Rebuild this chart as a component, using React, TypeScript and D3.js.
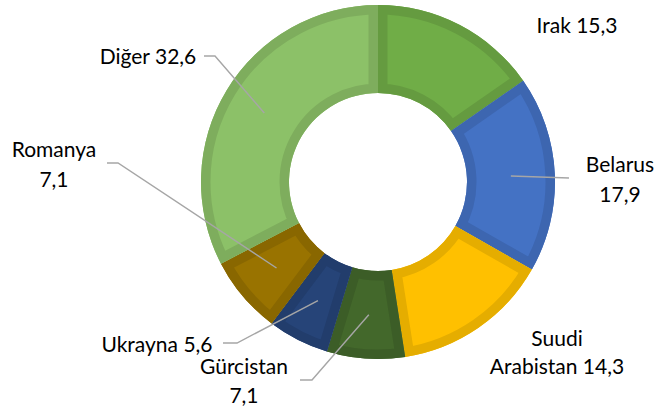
import React from "react";
import * as d3 from "d3";

const categories = ["Irak", "Belarus", "Suudi Arabistan", "Gürcistan", "Ukrayna", "Romanya", "Diğer"];
const values = [15.3, 17.9, 14.3, 7.1, 5.6, 7.1, 32.6];
const colors = ["#70AD47", "#4472C4", "#FFC000", "#43682B", "#264478", "#997300", "#8CC168"];

// layout (label placement as in the reference)
const W = 657, H = 414;
const CX = 378, CY = 182, R_OUT = 177, R_IN = 89, BORDER = 9.5;
type Lay = { x: number; y: number; lh: number; split: "none" | "value" | "word"; leader?: [number, number][] };
const labelLayout: Lay[] = [
  { x: 577, y: 33, lh: 29, split: "none" },
  { x: 620, y: 172, lh: 30, split: "value", leader: [[569, 178]] },
  { x: 557, y: 346, lh: 28, split: "word" },
  { x: 244, y: 374, lh: 29, split: "value", leader: [[300, 380], [312, 380]] },
  { x: 157, y: 352, lh: 29, split: "none", leader: [[223, 343], [237, 343]] },
  { x: 54, y: 157, lh: 30, split: "value", leader: [[107, 163], [118, 163]] },
  { x: 148, y: 64, lh: 29, split: "none", leader: [[204, 56], [215, 56]] },
];

const fmt = (v: number) => v.toFixed(1).replace(".", ",");

function lines(name: string, v: number, split: Lay["split"]): string[] {
  const val = fmt(v);
  if (split === "none") return [`${name} ${val}`];
  if (split === "value") return [name, val];
  const parts = name.split(" ");
  return [parts[0], `${parts.slice(1).join(" ")} ${val}`];
}

export default function App() {
  const data = categories.map((c, i) => ({ name: c, value: values[i], color: colors[i], lay: labelLayout[i] }));
  const pie = d3.pie<typeof data[0]>().sort(null).value((d) => d.value).startAngle(0).endAngle(2 * Math.PI);
  const arcs = pie(data);
  const arc = d3.arc<d3.PieArcDatum<typeof data[0]>>().innerRadius(R_IN).outerRadius(R_OUT);
  const midR = (R_IN + R_OUT) / 2;
  const labelArc = d3.arc<d3.PieArcDatum<typeof data[0]>>().innerRadius(midR).outerRadius(midR);

  return (
    <svg width={W} height={H} style={{ position: "absolute", left: 0, top: 0, background: "#fff" }} fontFamily="Lato, 'Open Sans', sans-serif">
      <defs>
        {arcs.map((a, i) => (
          <clipPath id={`clip${i}`} key={i}>
            <path d={arc(a) || ""} />
          </clipPath>
        ))}
      </defs>
      <g transform={`translate(${CX},${CY})`}>
        {arcs.map((a, i) => {
          const d = arc(a) || "";
          return (
            <g key={i}>
              <path d={d} fill={a.data.color} />
              <path
                d={d}
                fill="none"
                stroke={d3.color(a.data.color)!.darker(0.3).formatHex()}
                strokeWidth={BORDER * 2}
                strokeLinejoin="miter"
                clipPath={`url(#clip${i})`}
              />
            </g>
          );
        })}
      </g>
      <g>
        {arcs.map((a, i) => {
          const lay = a.data.lay;
          if (!lay.leader) return null;
          const [cx, cy] = labelArc.centroid(a);
          const pts: [number, number][] = [...lay.leader, [cx + CX, cy + CY]];
          return (
            <polyline
              key={i}
              points={pts.map((p) => p.join(",")).join(" ")}
              fill="none"
              stroke="#A6A6A6"
              strokeWidth={1.4}
            />
          );
        })}
      </g>
      <g fontSize={21} fill="#000" textAnchor="middle">
        {arcs.map((a, i) => {
          const lay = a.data.lay;
          return (
            <text key={i} x={lay.x} y={lay.y}>
              {lines(a.data.name, a.data.value, lay.split).map((t, j) => (
                <tspan key={j} x={lay.x} y={lay.y + j * lay.lh}>
                  {t}
                </tspan>
              ))}
            </text>
          );
        })}
      </g>
    </svg>
  );
}
